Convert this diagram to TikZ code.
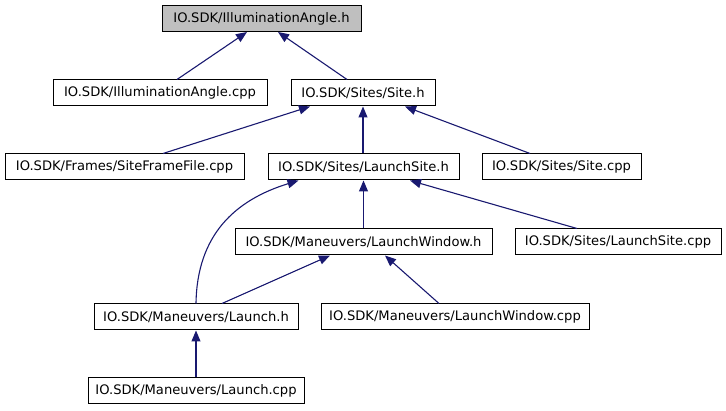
\documentclass[tikz,border=0pt]{standalone}
\usepackage{fontspec}
\setmainfont{DejaVu Sans}
\usetikzlibrary{arrows.meta}
\definecolor{edgeblue}{HTML}{191970}
\definecolor{rootgray}{HTML}{BFBFBF}
\begin{document}
\begin{tikzpicture}[x=1pt,y=-1pt,
  box/.style={draw=black,line width=1pt,fill=white,minimum height=26pt,inner sep=0pt,font=\fontsize{13.1}{15}\selectfont},
  rootbox/.style={box,fill=rootgray},
  edge/.style={draw=edgeblue,line width=1.1pt,{Triangle[length=11pt,width=9pt]}-}]
\useasboundingbox (0,0) rectangle (726,411);
\node[rootbox,minimum width=199pt] (n1) at (261.5,18.5) {IO.SDK/IlluminationAngle.h};
\node[box,minimum width=214pt] (n2) at (160,93) {IO.SDK/IlluminationAngle.cpp};
\node[box,minimum width=144pt] (n3) at (363,93) {IO.SDK/Sites/Site.h};
\node[box,minimum width=239pt] (n4) at (124.5,167) {IO.SDK/Frames/SiteFrameFile.cpp};
\node[box,minimum width=191pt] (n5) at (363.5,167) {IO.SDK/Sites/LaunchSite.h};
\node[box,minimum width=159pt] (n6) at (561.5,167) {IO.SDK/Sites/Site.cpp};
\node[box,minimum width=257pt] (n7) at (363.5,242) {IO.SDK/Maneuvers/LaunchWindow.h};
\node[box,minimum width=206pt] (n8) at (618,242) {IO.SDK/Sites/LaunchSite.cpp};
\node[box,minimum width=204pt] (n9) at (196,317) {IO.SDK/Maneuvers/Launch.h};
\node[box,minimum width=268pt] (n10) at (455,317) {IO.SDK/Maneuvers/LaunchWindow.cpp};
\node[box,minimum width=216pt] (n11) at (196,391) {IO.SDK/Maneuvers/Launch.cpp};
\draw[edge] ([xshift=-14.5pt]n1.south) -- ([xshift=17pt]n2.north);
\draw[edge] ([xshift=16.5pt]n1.south) -- ([xshift=-16pt]n3.north);
\draw[edge] ([xshift=-53pt]n3.south) -- ([xshift=38.5pt]n4.north);
\draw[edge] (n3.south) -- (n3.south |- n5.north);
\draw[edge] ([xshift=42pt]n3.south) -- ([xshift=-31.5pt]n6.north);
\draw[edge] (n5.south) -- (n5.south |- n7.north);
\draw[edge] ([xshift=46.5pt]n5.south) -- ([xshift=-41pt]n8.north);
\draw[edge] ([xshift=-65pt]n5.south) .. controls (235,200) and (197,235) .. (n9.north);
\draw[edge] ([xshift=-33.5pt]n7.south) -- ([xshift=26pt]n9.north);
\draw[edge] ([xshift=21.5pt]n7.south) -- ([xshift=-16pt]n10.north);
\draw[edge] (n9.south) -- (n11.north);
\end{tikzpicture}
\end{document}
